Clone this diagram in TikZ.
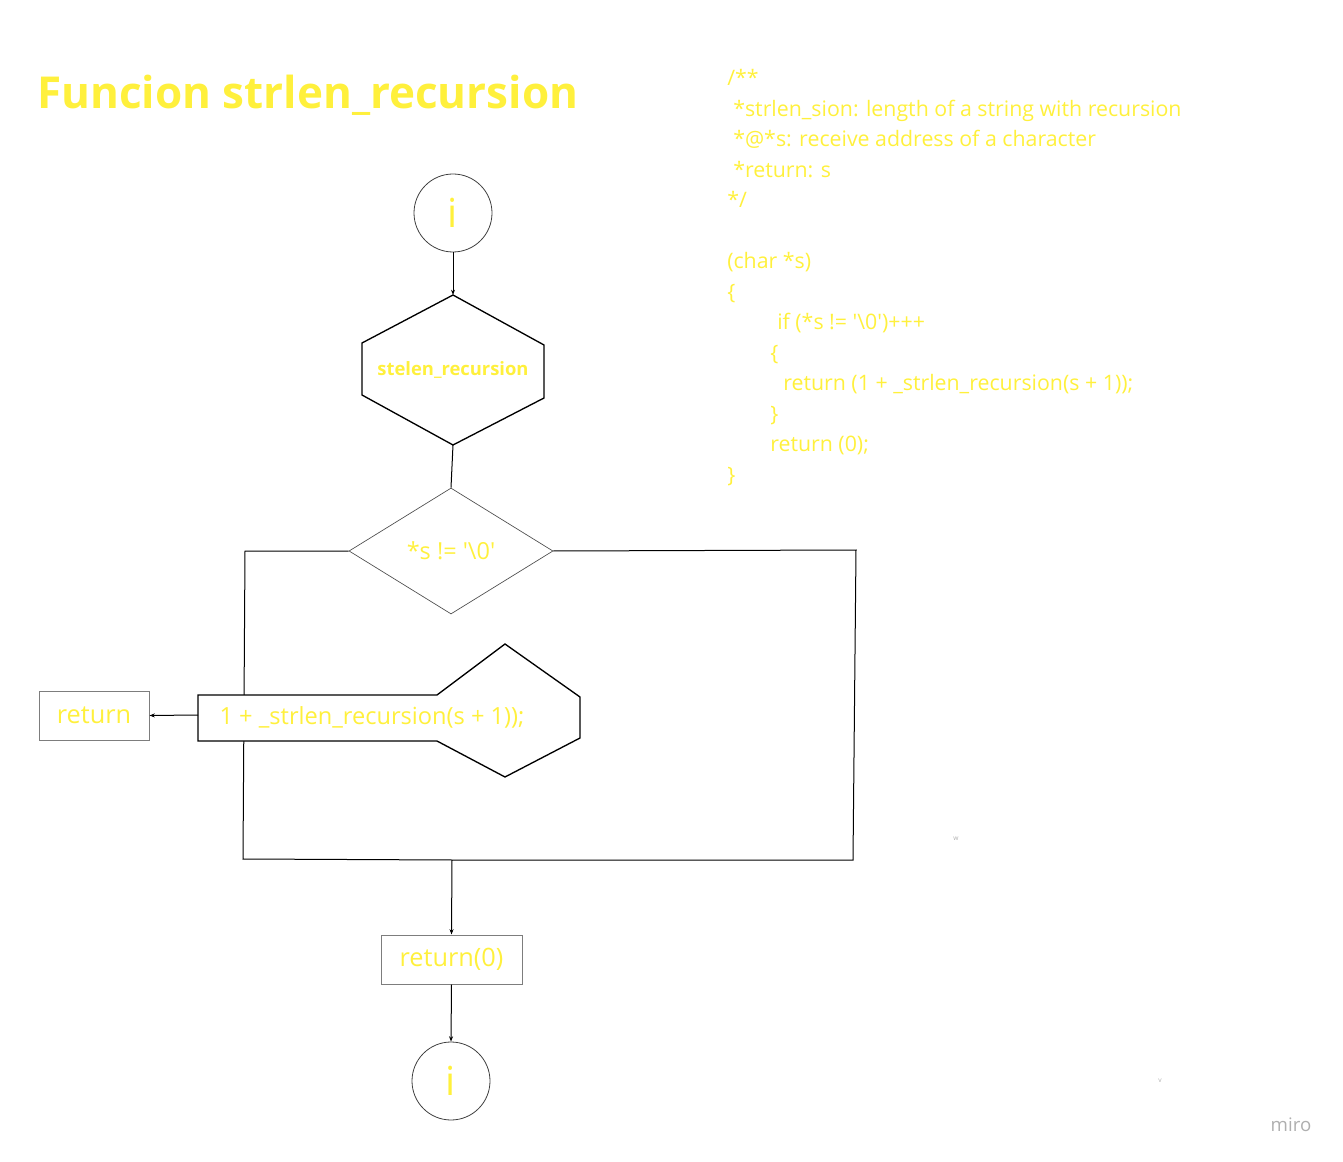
\documentclass[tikz,border=0pt]{standalone}
\usepackage{fontspec}
\setmainfont{Open Sans}[Ligatures=TeXOff]
\usetikzlibrary{shapes.geometric, arrows.meta}
\definecolor{miroyellow}{RGB}{255,240,60}
\definecolor{boxgrey}{RGB}{125,125,125}
\definecolor{markgrey}{RGB}{175,175,175}
\newcommand{\px}{0.75pt}
\newcommand{\fsz}[1]{\fontsize{#1}{#1}\selectfont}

\begin{document}
\begin{tikzpicture}[
    x=\px, y=-\px,
    terminal/.style={circle, draw=black!75, line width=0.6pt, minimum size=78*\px, inner sep=0pt, text=miroyellow, font=\fsz{30pt}},
    decision/.style={diamond, draw=black!70, line width=0.5pt, minimum width=204*\px, minimum height=126*\px, inner sep=0pt, text=miroyellow, font=\fsz{17.6pt}},
    retbox/.style={rectangle, draw=boxgrey, line width=0.75pt, minimum height=49*\px, inner sep=0pt, text=miroyellow, font=\fsz{19pt}},
    codeline/.style={anchor=base west, inner sep=0pt, text=miroyellow, font=\fsz{16pt}},
    link/.style={line width=0.75pt, black},
    arrow/.style={link, -{Stealth[length=4pt, width=3pt]}}
]
    \useasboundingbox (0,0) rectangle (1343,1162);

    % Title
    \node[anchor=base west, inner sep=0pt, text=miroyellow, font=\fsz{33pt}\bfseries] (title) at (37,109) {Funcion strlen\_recursion};

    % Code listing
    \node[codeline] (c0) at (727,86) {/**};
    \node[codeline] (c1) at (733,116.5) {*strlen\_sion: length of a string with recursion};
    \node[codeline] (c2) at (733,147) {*@*s: receive address of a character};
    \node[codeline] (c3) at (733,177.5) {*return: s};
    \node[codeline] (c4) at (727,208) {*/};
    \node[codeline] (c6) at (727,269) {(char *s)};
    \node[codeline] (c7) at (727,299.5) {\{};
    \node[codeline] (c8) at (777,330) {if (*s != '\textbackslash 0')+++};
    \node[codeline] (c9) at (770,360.5) {\{};
    \node[codeline] (c10) at (783,391) {return (1 + \_strlen\_recursion(s + 1));};
    \node[codeline] (c11) at (770,421.5) {\}};
    \node[codeline] (c12) at (770,452) {return (0);};
    \node[codeline] (c13) at (727,482.5) {\}};

    % Start
    \node[terminal] (start) at (453,213) {i};

    % Function block
    \coordinate (hexN) at (453,295);
    \coordinate (hexS) at (453,445);
    \draw[line width=1pt, black] (hexN) -- (544,345) -- (544,398) -- (hexS) -- (362,395) -- (362,343) -- cycle;
    \node[text=miroyellow, font=\fsz{13.8pt}\bfseries, inner sep=0pt] (func) at (453,370) {stelen\_recursion};

    % Condition
    \node[decision] (cond) at (451,551) {*s != '\textbackslash 0'};

    % Loop frame
    \coordinate (loopNW) at (245,551);
    \coordinate (loopSW) at (243,859);
    \coordinate (loopS) at (452,860);
    \coordinate (loopSE) at (853,860);
    \coordinate (loopNE) at (856,550);
    \draw[link] (cond.west) -- (loopNW) -- (loopSW) -- (loopS) -- (loopSE) -- (loopNE) -- (cond.east);

    % Recursive call
    \coordinate (recW) at (198,715);
    \draw[line width=1pt, black, fill=white] (198,695) -- (437,695) -- (505,644) -- (580,697) -- (580,738) -- (505,777) -- (437,741) -- (198,741) -- cycle;
    \node[text=miroyellow, font=\fsz{17.7pt}, inner sep=0pt] (rec) at (372,717) {1 + \_strlen\_recursion(s + 1));};
    \node[retbox, minimum width=110*\px] (ret) at (94,715.5) {return};

    % End
    \node[retbox, minimum width=141*\px] (ret0) at (451.5,959.5) {return(0)};
    \node[terminal] (stop) at (451,1081) {i};

    % Arrows
    \draw[arrow] (start) -- (hexN);
    \draw[link] (hexS) -- (cond.north);
    \draw[arrow] (recW) -- (ret.east);
    \draw[arrow] (loopS) -- (ret0.north);
    \draw[arrow] (ret0.south) -- (stop.north);

    % Marks
    \node[text=markgrey, font=\fsz{5pt}, inner sep=0pt] (markw) at (956,839) {w};
    \node[text=markgrey, font=\fsz{5pt}, inner sep=0pt] (markv) at (1160,1081) {v};
    \node[text=markgrey, font=\fsz{14pt}, inner sep=0pt] (miro) at (1291,1125) {miro};
\end{tikzpicture}
\end{document}
